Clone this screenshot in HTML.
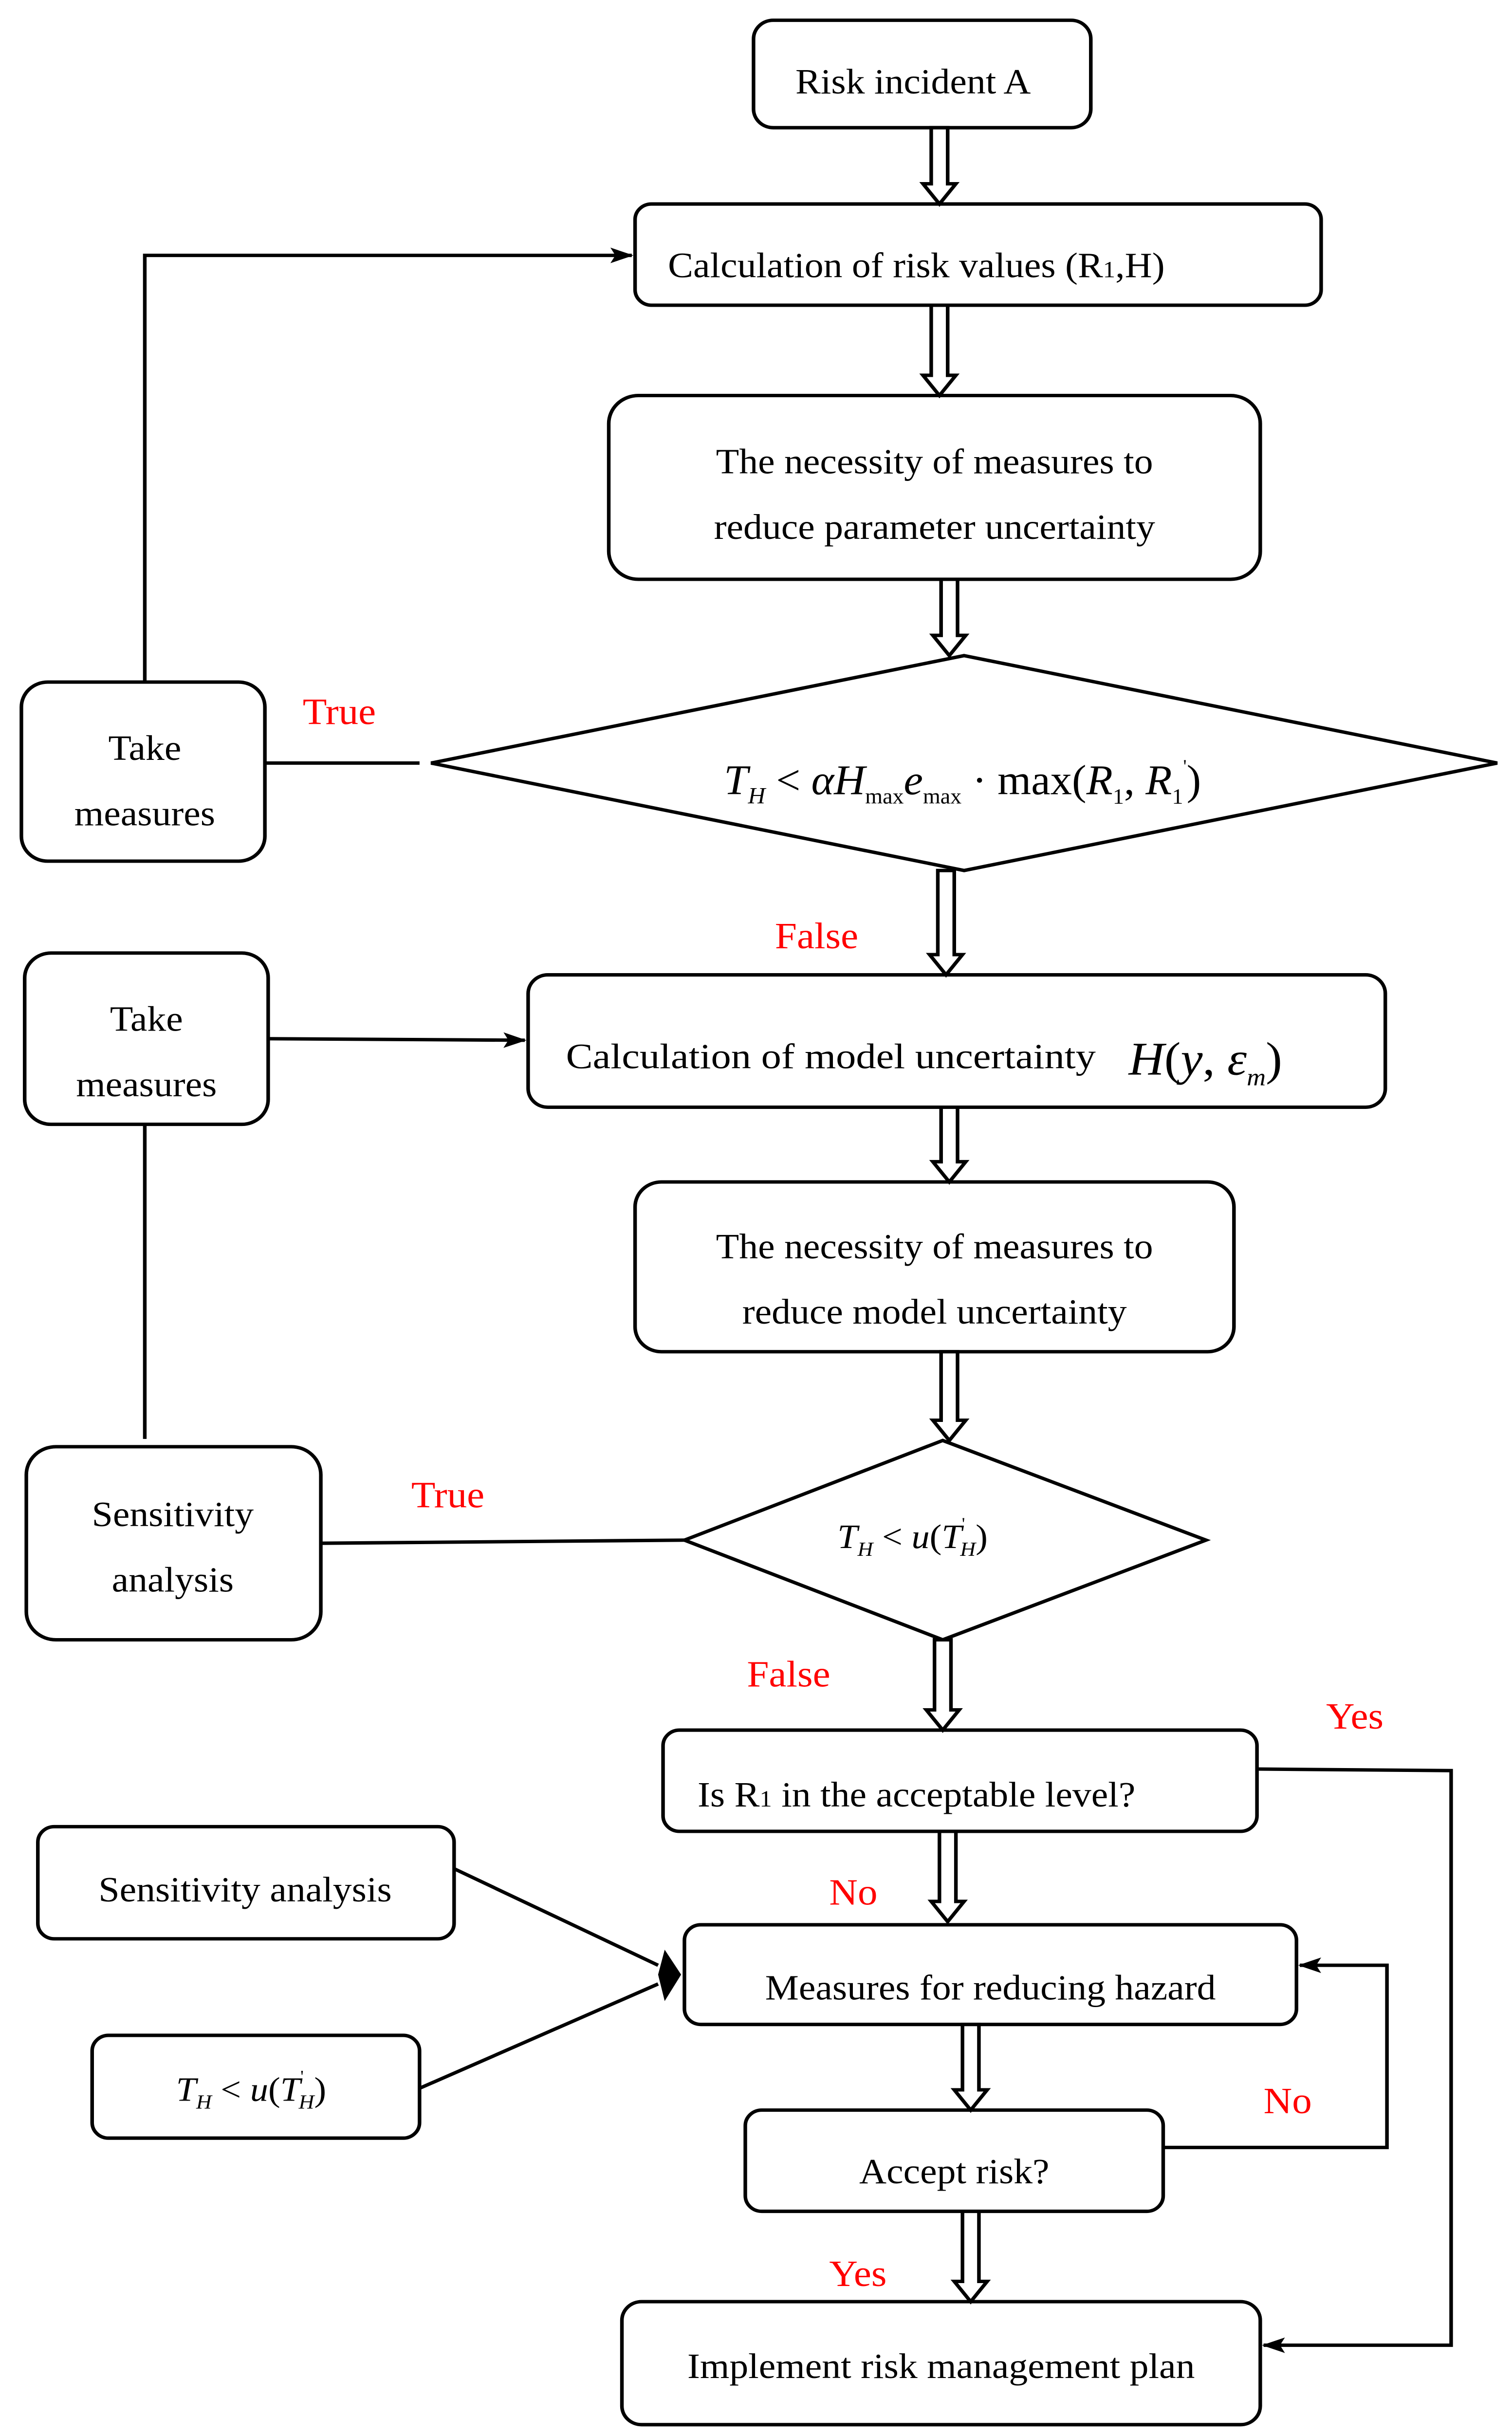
<!DOCTYPE html>
<html><head><meta charset="utf-8">
<style>
html,body{margin:0;padding:0;background:#fff;width:100%;height:100%;overflow:hidden;}
svg{display:block;position:fixed;left:0;top:0;width:100vw;height:100vh;}
text{font-family:"Liberation Serif",serif;fill:#000;}
.r{fill:#ff0000;}
</style></head>
<body>
<svg viewBox="0 0 919 1563" preserveAspectRatio="none" xmlns="http://www.w3.org/2000/svg">
<defs>
<marker id="ah" markerWidth="14" markerHeight="10" refX="13" refY="5" orient="auto" markerUnits="userSpaceOnUse">
<path d="M0,0 L14,5 L0,10 L3,5 Z" fill="#000"/>
</marker>
</defs>
<g fill="none" stroke="#000" stroke-width="2.2">
<rect x="458" y="13" width="205" height="69" rx="12"/>
<rect x="386" y="131" width="417" height="65" rx="10"/>
<rect x="370" y="254" width="396" height="118" rx="18"/>
<polygon points="586,421 910,490 586,559 262,490"/>
<rect x="13" y="438" width="148" height="115" rx="16"/>
<rect x="321" y="626" width="521" height="85" rx="12"/>
<rect x="15" y="612" width="148" height="110" rx="16"/>
<rect x="386" y="759" width="364" height="109" rx="16"/>
<polygon points="573,925 733,989 573,1053 416,989"/>
<rect x="16" y="929" width="179" height="124" rx="18"/>
<rect x="403" y="1111" width="361" height="65" rx="10"/>
<rect x="416" y="1236" width="372" height="64" rx="10"/>
<rect x="23" y="1173" width="253" height="72" rx="10"/>
<rect x="56" y="1307" width="199" height="66" rx="10"/>
<rect x="453" y="1355" width="254" height="65" rx="10"/>
<rect x="378" y="1478" width="388" height="79" rx="12"/>
<polyline points="88,438 88,164 384,164" marker-end="url(#ah)"/>
<line x1="161" y1="490" x2="255" y2="490"/>
<line x1="163" y1="667" x2="319" y2="668" marker-end="url(#ah)"/>
<line x1="88" y1="722" x2="88" y2="924"/>
<line x1="195" y1="991" x2="416" y2="989"/>
<polyline points="764,1136 882,1137 882,1506 768,1506" marker-end="url(#ah)"/>
<polyline points="707,1379 843,1379 843,1262 790,1262" marker-end="url(#ah)"/>
<line x1="276" y1="1200" x2="400" y2="1262"/>
<line x1="255" y1="1341" x2="400" y2="1274"/>
</g>
<path d="M414,1268 L404,1252 L400,1268 L404,1285 Z" fill="#000"/>
<g fill="#fff" stroke="#000" stroke-width="2.2">
<polygon points="566,82 576,82 576,118 581,118 571,131 561,118 566,118"/>
<polygon points="566,196 576,196 576,241 581,241 571,254 561,241 566,241"/>
<polygon points="572,372 582,372 582,408 587,408 577,421 567,408 572,408"/>
<polygon points="570,559 580,559 580,613 585,613 575,626 565,613 570,613"/>
<polygon points="572,711 582,711 582,746 587,746 577,759 567,746 572,746"/>
<polygon points="572,868 582,868 582,912 587,912 577,925 567,912 572,912"/>
<polygon points="568,1053 578,1053 578,1098 583,1098 573,1111 563,1098 568,1098"/>
<polygon points="571,1176 581,1176 581,1221 586,1221 576,1234 566,1221 571,1221"/>
<polygon points="585,1300 595,1300 595,1342 600,1342 590,1355 580,1342 585,1342"/>
<polygon points="585,1420 595,1420 595,1465 600,1465 590,1478 580,1465 585,1465"/>
</g>
<g font-size="23">
<text x="555" y="60" text-anchor="middle">Risk incident A</text>
<text x="406" y="178">Calculation of risk values (R<tspan font-size="15">1</tspan>,H)</text>
<text x="568" y="304" text-anchor="middle">The necessity of measures to</text>
<text x="568" y="346" text-anchor="middle">reduce parameter uncertainty</text>
<text x="88" y="488" text-anchor="middle">Take</text>
<text x="88" y="530" text-anchor="middle">measures</text>
<text x="89" y="662" text-anchor="middle">Take</text>
<text x="89" y="704" text-anchor="middle">measures</text>
<text x="344" y="686" textLength="322" lengthAdjust="spacingAndGlyphs">Calculation of model uncertainty</text>
<text x="568" y="808" text-anchor="middle">The necessity of measures to</text>
<text x="568" y="850" text-anchor="middle">reduce model uncertainty</text>
<text x="105" y="980" text-anchor="middle">Sensitivity</text>
<text x="105" y="1022" text-anchor="middle">analysis</text>
<text x="424" y="1160">Is R<tspan font-size="15">1</tspan> in the acceptable level?</text>
<text x="602" y="1284" text-anchor="middle">Measures for reducing hazard</text>
<text x="149" y="1221" text-anchor="middle">Sensitivity analysis</text>
<text x="580" y="1402" text-anchor="middle">Accept risk?</text>
<text x="572" y="1527" text-anchor="middle">Implement risk management plan</text>
</g>
<g font-size="24">
<text class="r" x="184" y="465">True</text>
<text class="r" x="471" y="609">False</text>
<text class="r" x="250" y="968">True</text>
<text class="r" x="454" y="1083">False</text>
<text class="r" x="806" y="1110">Yes</text>
<text class="r" x="504" y="1223">No</text>
<text class="r" x="768" y="1357">No</text>
<text class="r" x="504" y="1468">Yes</text>
</g>
<text x="440" y="510" font-size="27" textLength="290" lengthAdjust="spacingAndGlyphs"><tspan font-style="italic">T</tspan><tspan font-size="15" font-style="italic" dy="6">H</tspan><tspan dy="-6"> &lt; </tspan><tspan font-style="italic">αH</tspan><tspan font-size="14" dy="6">max</tspan><tspan dy="-6" font-style="italic">e</tspan><tspan font-size="14" dy="6">max</tspan><tspan dy="-6"> · max(</tspan><tspan font-style="italic">R</tspan><tspan font-size="14" dy="6">1</tspan><tspan dy="-6">, </tspan><tspan font-style="italic">R</tspan><tspan font-size="14" dy="6">1</tspan><tspan font-size="12" dy="-20">'</tspan><tspan dy="14">)</tspan></text>
<text x="686" y="690" font-size="30" font-style="italic">H<tspan font-style="normal">(</tspan>y<tspan font-style="normal">, </tspan>ε<tspan font-size="16" dy="7">m</tspan><tspan font-style="normal" dy="-7">)</tspan></text>
<text x="509" y="994" font-size="22"><tspan font-style="italic">T</tspan><tspan font-size="13" font-style="italic" dy="5">H</tspan><tspan dy="-5"> &lt; </tspan><tspan font-style="italic">u</tspan>(<tspan font-style="italic">T</tspan><tspan font-size="11" dy="-12">'</tspan><tspan font-size="13" font-style="italic" dy="17" dx="-3">H</tspan><tspan dy="-5">)</tspan></text>
<text x="107" y="1349" font-size="22"><tspan font-style="italic">T</tspan><tspan font-size="13" font-style="italic" dy="5">H</tspan><tspan dy="-5"> &lt; </tspan><tspan font-style="italic">u</tspan>(<tspan font-style="italic">T</tspan><tspan font-size="11" dy="-12">'</tspan><tspan font-size="13" font-style="italic" dy="17" dx="-3">H</tspan><tspan dy="-5">)</tspan></text>
</svg>
</body></html>
